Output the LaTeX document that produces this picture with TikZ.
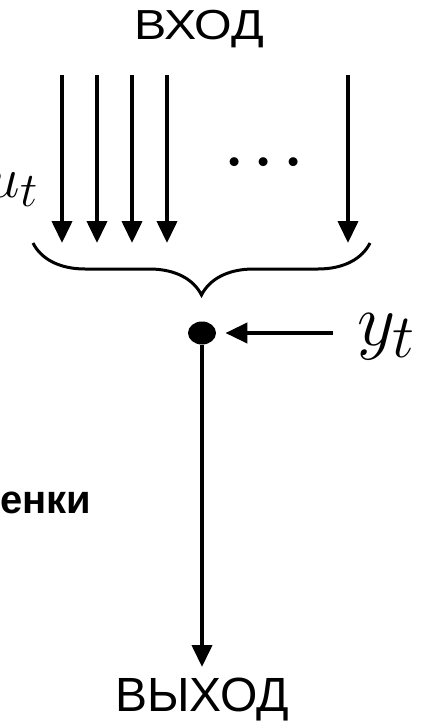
\documentclass[tikz,border=0pt]{standalone}
\usepackage{fontspec}
\newfontfamily\labelfont{Liberation Sans}
\DeclareMathSizes{24.88}{24.88}{20.74}{17.28}
\usetikzlibrary{arrows.meta,decorations.pathreplacing,shapes.geometric}

\begin{document}
\begin{tikzpicture}[x=0.5pt, y=-0.5pt,
		>={Stealth[length=11pt,width=10pt,inset=0pt]},
		feed/.style={->, line width=2pt},
		word/.style={font=\labelfont, inner sep=0pt},
		sym/.style={inner sep=0pt, font=\fontsize{24.88}{25}\selectfont}]
	% Khung hình giống ảnh gốc
	\useasboundingbox (0,0) rectangle (427,723);
	
	% Nhãn đầu vào
	\node[word, font=\labelfont\fontsize{21}{22}\selectfont] (vkhod) at (199,29) {\scalebox{1.15}[1]{ВХОД}};
	\node[sym, anchor=base east] (ut) at (39,197) {\scalebox{1.17}{$u_t$}};
	
	% Các mũi tên đầu vào
	\coordinate (a1) at (62,75);  \coordinate (b1) at (62,243);
	\coordinate (a2) at (97,75);  \coordinate (b2) at (97,243);
	\coordinate (a3) at (132,75); \coordinate (b3) at (132,243);
	\coordinate (a4) at (167,75); \coordinate (b4) at (167,243);
	\coordinate (a5) at (348,75); \coordinate (b5) at (348,243);
	\draw[feed] (a1) -- (b1);
	\draw[feed] (a2) -- (b2);
	\draw[feed] (a3) -- (b3);
	\draw[feed] (a4) -- (b4);
	\draw[feed] (a5) -- (b5);
	\node[sym, font=\fontsize{24.88}{25}\selectfont\boldmath] (gap) at (264,163) {\scalebox{1.15}{$\cdots$}};
	
	% Dấu ngoặc gom các đầu vào
	\coordinate (bl) at (33,243);
	\coordinate (br) at (370,243);
	\draw[line width=1.5pt, decorate, decoration={brace, mirror, amplitude=26pt}] (bl) -- (br);
	
	% Điểm nút và tín hiệu y_t
	\node[ellipse, fill, minimum width=14pt, minimum height=11.5pt, inner sep=0pt] (dot) at (202,333) {};
	\node[sym, anchor=base west] (yt) at (357,345) {\scalebox{1.49}{$y_t$}};
	\coordinate (ys) at (333,333);
	\draw[feed, shorten >=4.5pt] (ys) -- (dot);
	
	% Đầu ra
	\coordinate (oe) at (202,667);
	\draw[feed] (dot) -- (oe);
	\node[word, font=\labelfont\fontsize{24}{25}\selectfont] (vykhod) at (202,700) {ВЫХОД};
	
	% Phần chữ bị cắt bên trái
	\node[word, anchor=west, font=\labelfont\bfseries\fontsize{20}{20}\selectfont] (tail) at (0,503) {енки};
\end{tikzpicture}
\end{document}
